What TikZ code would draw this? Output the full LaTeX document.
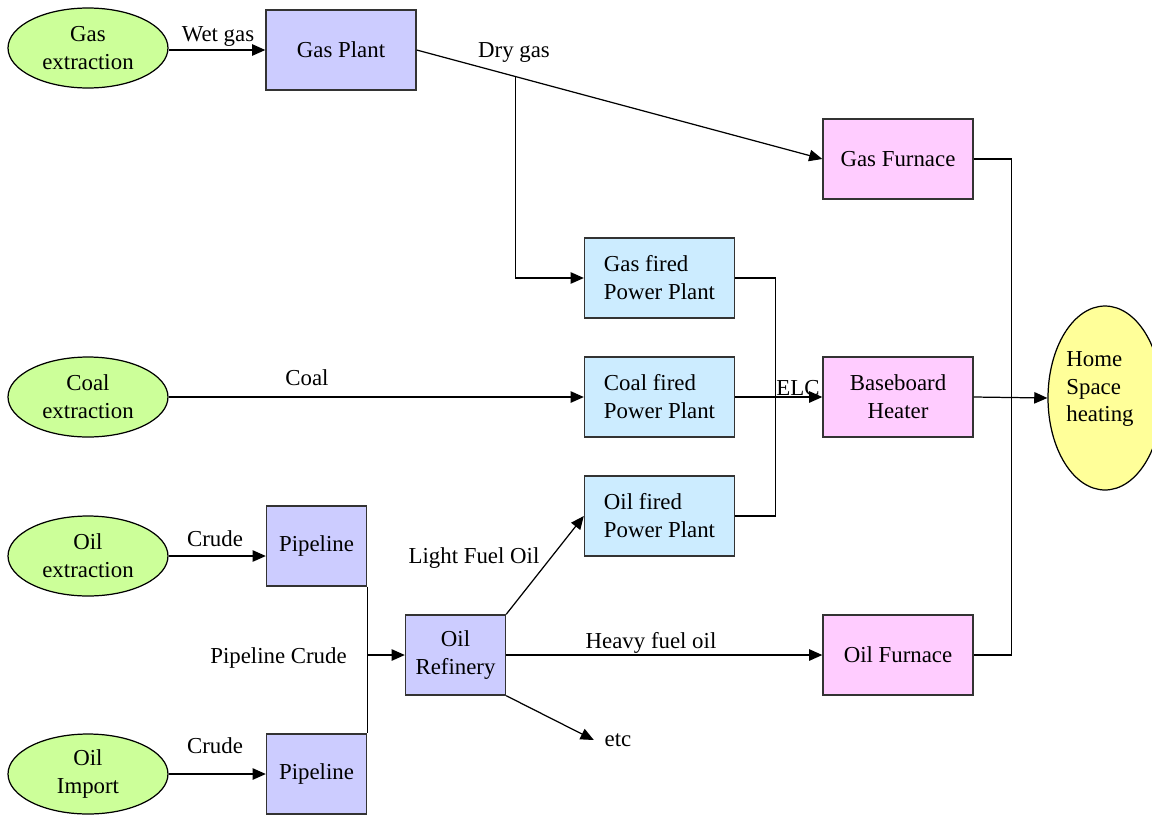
\documentclass[tikz,border=0pt]{standalone}
\usepackage{fontspec}
\setmainfont{Liberation Serif}
\usetikzlibrary{arrows.meta,shapes.geometric,calc}

\definecolor{sourcefill}{HTML}{CCFF99}
\definecolor{plantfill}{HTML}{CCCCFF}
\definecolor{powerfill}{HTML}{CCECFF}
\definecolor{heaterfill}{HTML}{FFCCFF}
\definecolor{demandfill}{HTML}{FFFF99}

\begin{document}
\begin{tikzpicture}[x=0.02cm, y=-0.02cm,
  font=\fontsize{13}{15.9}\selectfont,
  every node/.style={inner sep=0pt},
  source/.style={ellipse, draw=black, line width=0.7pt, fill=sourcefill,
    minimum width=3.2cm, minimum height=1.6cm, align=center},
  procbox/.style={rectangle, draw=black!80, line width=0.8pt,
    minimum width=3cm, minimum height=1.6cm, align=center},
  plant/.style={procbox, fill=plantfill},
  power/.style={procbox, fill=powerfill, align=left},
  heater/.style={procbox, fill=heaterfill},
  demand/.style={ellipse, draw=black, line width=0.7pt, fill=demandfill,
    minimum width=2.28cm, minimum height=3.68cm},
  flowlabel/.style={anchor=base, inner sep=0pt},
  flow/.style={-{Triangle[length=7.5pt,width=6.5pt]}, line width=0.7pt, draw=black},
  link/.style={line width=0.7pt, draw=black}]

\useasboundingbox (0,0) rectangle (1152,815);

% primary sources
\node[source] (gasx)  at (88,48)  {Gas\\extraction};
\node[source] (coalx) at (88,397) {Coal\\extraction};
\node[source] (oilx)  at (88,556) {Oil\\extraction};
\node[source] (oili)  at (88,774) {Oil\\Import};

% processing
\node[plant] (gasp)  at (341,50) {Gas Plant};
\node[plant, minimum width=2cm] (pipe1) at (316.5,546) {Pipeline};
\node[plant, minimum width=2cm] (pipe2) at (316.5,774) {Pipeline};
\node[plant, minimum width=2cm] (ref)   at (455.5,655) {Oil\\Refinery};

% power generation
\node[power] (gpp) at (659.5,278) {Gas fired\\Power Plant};
\node[power] (cpp) at (659.5,397) {Coal fired\\Power Plant};
\node[power] (opp) at (659.5,516) {Oil fired\\Power Plant};

% end-use devices
\node[heater] (gasf) at (898,159) {Gas Furnace};
\node[heater] (bbh)  at (898,397) {Baseboard\\Heater};
\node[heater] (oilf) at (898,655) {Oil Furnace};

% demand
\node[demand] (home) at (1105,398) {};
\node[align=left] (hometxt) at (1100,389) {Home\\Space\\heating};

% open output of the refinery
\node[inner sep=6pt] (etc) at (618,740) {etc};

% gas chain
\draw[flow] (gasx.east |- gasp.west) -- (gasp.west);
\draw[flow] (gasp.east) -- (gasf.west);
\path (gasp.east) -- (gasf.west) coordinate[pos=0.243] (split);
\draw[flow] (split) |- (gpp.west);

% coal chain
\draw[flow] (coalx.east) -- (cpp.west);

% oil chain
\draw[flow] (oilx.east) -- (oilx.east -| pipe1.west);
\draw[flow] (oili.east) -- (pipe2.west);
\draw[link] (pipe1.south east) -- (pipe2.north east);
\draw[flow] (pipe1.south east |- ref.west) -- (ref.west);
\draw[flow] (ref.north east) -- (opp.west);
\draw[flow] (ref.east) -- (oilf.west);
\draw[flow] (ref.south east) -- (etc.west);

% electricity
\draw[link] (gpp.east) -- ++(40,0) |- (opp.east);
\draw[flow] (cpp.east) -- (bbh.west);

% heat delivery
\draw[link] (gasf.east) -- ++(38,0) |- (oilf.east);
\draw[flow] (bbh.east) -- (home.west);

% commodity labels
\node[flowlabel] (lwet)   at (218,41)  {Wet gas};
\node[flowlabel] (ldry)   at (514,57)  {Dry gas};
\node[flowlabel] (lcoal)  at (307,385) {Coal};
\node[flowlabel] (lelc)   at (798,395) {ELC};
\node[flowlabel] (lcr1)   at (215,546) {Crude};
\node[flowlabel] (lcr2)   at (215,753) {Crude};
\node[flowlabel] (lpipe)  at (278.5,663) {Pipeline Crude};
\node[flowlabel] (llight) at (474,563) {Light Fuel Oil};
\node[flowlabel] (lheavy) at (651,648) {Heavy fuel oil};

\end{tikzpicture}
\end{document}
